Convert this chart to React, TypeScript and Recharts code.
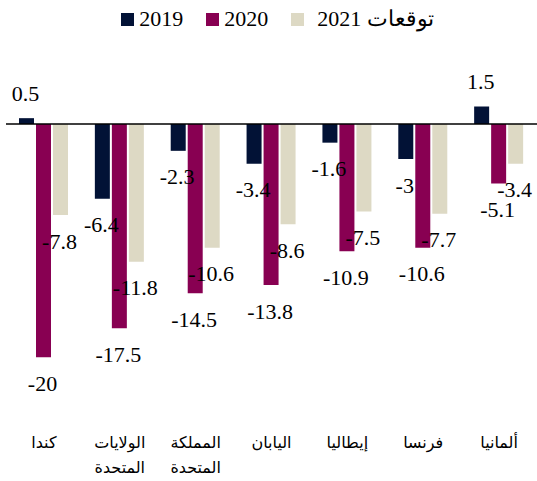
import React from 'react'
import { BarChart, Bar, XAxis, YAxis, ReferenceLine, Legend, LabelList } from 'recharts'

const countries = ['كندا', 'الولايات المتحدة', 'المملكة المتحدة', 'اليابان', 'إيطاليا', 'فرنسا', 'ألمانيا']
const growth2019 = [0.5, -6.4, -2.3, -3.4, -1.6, -3, 1.5]
const growth2020 = [-20, -17.5, -14.5, -13.8, -10.9, -10.6, -5.1]
const forecast2021 = [-7.8, -11.8, -10.6, -8.6, -7.5, -7.7, -3.4]

const seriesNames = ['2019', '2020', '2021 توقعات']
const colors = ['#021236', '#880052', '#ddd9c4']

const data = countries.map((c, i) => ({
  country: c,
  y2019: growth2019[i],
  y2020: growth2020[i],
  y2021: forecast2021[i],
}))

const serif = '"Liberation Serif", "Times New Roman", "DejaVu Serif", serif'
const sans = '"Liberation Sans", Arial, "DejaVu Sans", sans-serif'

function ValueLabel(props: any) {
  const { x, y, width, height, value } = props
  const top = Math.min(y, y + height)
  const bottom = Math.max(y, y + height)
  const ty = value < 0 ? bottom + 26 : top - 25
  return (
    <text
      x={x + width / 2 - 1}
      y={ty}
      textAnchor="middle"
      dominantBaseline="central"
      fontFamily={serif}
      fontSize={22}
      fill="#000"
    >
      {value}
    </text>
  )
}

function CountryTick(props: any) {
  const { x, y, payload } = props
  const words = String(payload.value).split(' ')
  return (
    <g>
      {words.map((w, i) => (
        <text
          key={i}
          x={x}
          y={y + 44 + i * 25}
          textAnchor="middle"
          fontFamily={sans}
          fontSize={16}
          fill="#000"
        >
          {w}
        </text>
      ))}
    </g>
  )
}

function LegendBox() {
  return (
    <div
      style={{
        height: 38,
        display: 'flex',
        alignItems: 'center',
        justifyContent: 'center',
        paddingLeft: 18,
        fontFamily: serif,
        fontSize: 22,
        color: '#000',
      }}
    >
      {seriesNames.map((n, i) => (
        <div key={n} style={{ display: 'flex', alignItems: 'center', marginRight: i < 2 ? 23 : 0 }}>
          <span style={{ width: 13, height: 13, background: colors[i], display: 'inline-block', marginRight: i === 2 ? 13 : 5 }} />
          <span>{n}</span>
        </div>
      ))}
    </div>
  )
}

export default function App() {
  return (
    <div style={{ position: 'absolute', left: 0, top: 0, width: 537, height: 481, background: '#fff' }}>
      <BarChart
        width={537}
        height={481}
        data={data}
        margin={{ top: 16, right: 0, left: 6, bottom: 17 }}
        barSize={15}
        barGap={2}
      >
        <Legend
          verticalAlign="top"
          content={() => <LegendBox />}
          wrapperStyle={{ top: 0, left: 0, width: 537 }}
        />
        <XAxis
          dataKey="country"
          axisLine={false}
          tickLine={false}
          tickSize={0}
          tickMargin={0}
          height={60}
          interval={0}
          tick={<CountryTick />}
        />
        <YAxis hide domain={[-24, 6]} />
        <Bar dataKey="y2019" name={seriesNames[0]} fill={colors[0]} isAnimationActive={false}>
          <LabelList dataKey="y2019" content={<ValueLabel />} />
        </Bar>
        <Bar dataKey="y2020" name={seriesNames[1]} fill={colors[1]} isAnimationActive={false}>
          <LabelList dataKey="y2020" content={<ValueLabel />} />
        </Bar>
        <Bar dataKey="y2021" name={seriesNames[2]} fill={colors[2]} isAnimationActive={false}>
          <LabelList dataKey="y2021" content={<ValueLabel />} />
        </Bar>
        <ReferenceLine y={0} stroke="#000" strokeWidth={1.5} />
      </BarChart>
    </div>
  )
}
